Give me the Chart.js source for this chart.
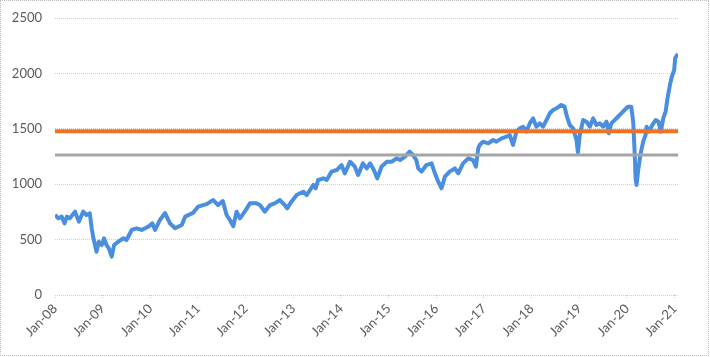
<!DOCTYPE html>
<html>
<head>
<meta charset="utf-8">
<script src="https://cdn.jsdelivr.net/npm/chart.js@4"></script>
<style>
  html, body { margin: 0; padding: 0; background: #fff; }
  #wrap { position: relative; width: 710px; height: 357px; }
  #frame { position: absolute; left: 0; top: 0; width: 709px; height: 356px; box-sizing: border-box; border: 1px dotted #bdbdbd; pointer-events: none; }
  canvas { display: block; }
</style>
</head>
<body>
<div id="wrap">
  <canvas id="c" width="710" height="357"></canvas>
  <div id="frame"></div>
</div>
<script>
// Time positions (decimal years) and index values
const times = [
  2008.00, 2008.07, 2008.14, 2008.20, 2008.25, 2008.31, 2008.42, 2008.50, 2008.59, 2008.66, 2008.73, 2008.77, 2008.80, 2008.87, 2008.92, 2008.98,
  2009.03, 2009.08, 2009.13, 2009.19, 2009.24, 2009.33, 2009.43, 2009.50, 2009.61, 2009.71, 2009.82, 2009.89, 2009.96,
  2010.04, 2010.10, 2010.20, 2010.31, 2010.41, 2010.52, 2010.66, 2010.73, 2010.90,
  2011.00, 2011.18, 2011.32, 2011.42, 2011.52, 2011.60, 2011.67, 2011.74, 2011.81, 2011.88, 2011.98,
  2012.09, 2012.23, 2012.30, 2012.40, 2012.51, 2012.61, 2012.72, 2012.82, 2012.87, 2012.96,
  2013.07, 2013.14, 2013.21, 2013.28, 2013.42, 2013.47, 2013.52, 2013.63, 2013.70, 2013.80, 2013.91,
  2014.01, 2014.08, 2014.19, 2014.29, 2014.36, 2014.46, 2014.54, 2014.61, 2014.69, 2014.76, 2014.85, 2014.96,
  2015.06, 2015.17, 2015.24, 2015.34, 2015.44, 2015.51, 2015.58, 2015.62, 2015.69, 2015.79, 2015.90, 2015.97,
  2016.04, 2016.11, 2016.18, 2016.28, 2016.39, 2016.46, 2016.56, 2016.67, 2016.77, 2016.83, 2016.88, 2016.91, 2016.98,
  2017.09, 2017.19, 2017.26, 2017.37, 2017.47, 2017.54, 2017.61, 2017.68, 2017.75, 2017.82, 2017.89, 2017.96,
  2018.03, 2018.10, 2018.17, 2018.24, 2018.31, 2018.38, 2018.45, 2018.52, 2018.62, 2018.69, 2018.74, 2018.80, 2018.87, 2018.94, 2018.97,
  2019.01, 2019.08, 2019.15, 2019.22, 2019.29, 2019.36, 2019.43, 2019.50, 2019.57, 2019.62, 2019.67, 2019.74, 2019.81, 2019.88, 2019.95,
  2020.02, 2020.09, 2020.13, 2020.16, 2020.18, 2020.20, 2020.24, 2020.28, 2020.34, 2020.39, 2020.41, 2020.46, 2020.53, 2020.60, 2020.66, 2020.71, 2020.76, 2020.81, 2020.85, 2020.90, 2020.94, 2020.99,
  2021.01, 2021.05, 2021.07
];
const indexValues = [
  722, 692, 707, 647, 707, 692, 752, 662, 752, 722, 737, 602, 526, 391, 481, 451,
  511, 451, 421, 346, 451, 481, 511, 496, 587, 602, 587, 602, 617,
  647, 587, 677, 740, 647, 602, 632, 707, 743,
  797, 820, 857, 812, 848, 722, 677, 620, 752, 692, 752,
  827, 827, 812, 752, 812, 827, 857, 812, 782, 842,
  902, 918, 932, 902, 993, 963, 1038, 1053, 1038, 1113, 1128,
  1173, 1098, 1203, 1158, 1083, 1188, 1143, 1188, 1128, 1053, 1158, 1203,
  1203, 1233, 1218, 1248, 1293, 1264, 1218, 1143, 1113, 1173, 1188, 1098,
  1023, 963, 1068, 1113, 1143, 1098, 1188, 1233, 1218, 1158, 1324, 1354, 1384,
  1369, 1399, 1384, 1414, 1429, 1444, 1354, 1474, 1504, 1519, 1474, 1549,
  1594, 1519, 1549, 1519, 1579, 1640, 1670, 1685, 1715, 1700, 1609, 1534, 1504, 1400, 1285,
  1444, 1579, 1564, 1519, 1594, 1534, 1549, 1519, 1564, 1459, 1549, 1579, 1609, 1640, 1670,
  1700, 1700, 1564, 1293, 1053, 993, 1143, 1264, 1384, 1444, 1519, 1474, 1534, 1579, 1564, 1474, 1594, 1655, 1775, 1895, 1970, 2031,
  2136, 2166, 2175
];
const orangeLevel = 1478;
const grayLevel = 1264;
const yearTicks = [2008, 2009, 2010, 2011, 2012, 2013, 2014, 2015, 2016, 2017, 2018, 2019, 2020, 2021];
const yTicks = [0, 500, 1000, 1500, 2000, 2500];

const xMin = times[0];
const xMax = times[times.length - 1];
const seriesPts = times.map((t, i) => ({ x: t, y: indexValues[i] }));
const orangePts = [{ x: xMin, y: orangeLevel }, { x: xMax, y: orangeLevel }];
const grayPts = [{ x: xMin, y: grayLevel }, { x: xMax, y: grayLevel }];

const tickFont = { family: 'Lato, "Open Sans", sans-serif', size: 13 };
const tickColor = '#595959';

new Chart(document.getElementById('c'), {
  type: 'line',
  data: {
    datasets: [
      { data: orangePts, borderColor: '#F07122', borderWidth: 4, pointRadius: 0, order: 1 },
      { data: grayPts, borderColor: '#A5A5A5', borderWidth: 3, pointRadius: 0, order: 2 },
      { data: seriesPts, borderColor: '#4A8EE0', borderWidth: 4, pointRadius: 0, tension: 0, order: 3, borderJoinStyle: 'round' }
    ]
  },
  options: {
    responsive: false,
    animation: false,
    events: [],
    layout: { padding: { left: 10, right: 32, top: 18, bottom: 2 } },
    plugins: { legend: { display: false }, tooltip: { enabled: false } },
    scales: {
      x: {
        type: 'linear',
        min: xMin,
        max: xMax,
        afterBuildTicks: s => { s.ticks = yearTicks.map(v => ({ value: v })); },
        afterFit: s => { s.height = 60; s.paddingLeft = 0; s.paddingRight = 0; },
        ticks: {
          autoSkip: false,
          maxRotation: 45,
          minRotation: 45,
          padding: 2,
          color: tickColor,
          font: tickFont,
          callback: v => 'Jan-' + String(v).slice(2)
        },
        grid: { drawOnChartArea: false, drawTicks: true, tickLength: 4, tickColor: '#c8c8c8', tickBorderDash: [1, 1] },
        border: { display: false }
      },
      y: {
        min: 0,
        max: 2500,
        afterBuildTicks: s => { s.ticks = yTicks.map(v => ({ value: v })); },
        afterFit: s => { s.width = 45; s.paddingTop = 0; s.paddingBottom = 0; },
        ticks: { padding: 13, color: tickColor, font: tickFont, callback: v => String(v) },
        grid: { color: '#cfcfcf', lineWidth: 1, drawTicks: false },
        border: { display: false, dash: [1, 1] }
      }
    }
  }
});
</script>
</body>
</html>
